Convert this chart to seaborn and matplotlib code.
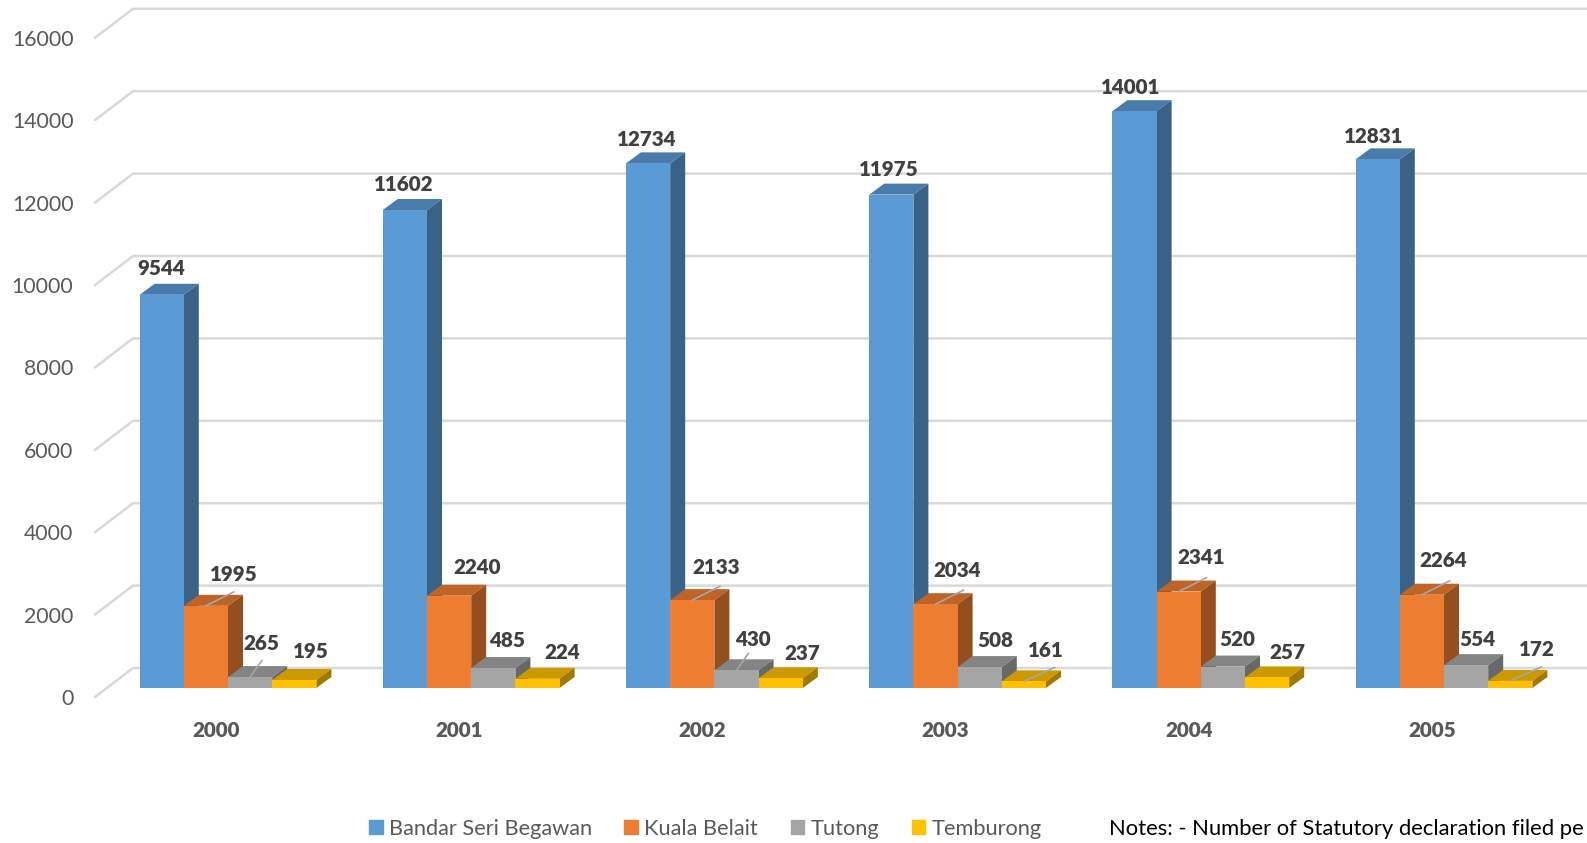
import matplotlib
matplotlib.use('Agg')
import matplotlib.pyplot as plt
import matplotlib.colors as mcolors
from matplotlib.transforms import Affine2D
import pandas as pd
import seaborn as sns

# values
years = ['2000', '2001', '2002', '2003', '2004', '2005']
districts = ['Bandar Seri Begawan', 'Kuala Belait', 'Tutong', 'Temburong']
bandar = [9544, 11602, 12734, 11975, 14001, 12831]
kuala = [1995, 2240, 2133, 2034, 2341, 2264]
tutong = [265, 485, 430, 508, 520, 554]
temburong = [195, 224, 237, 161, 257, 172]
colors = ['#5B9BD5', '#ED7D31', '#A5A5A5', '#FFC000']
yticks = list(range(0, 16001, 2000))
note = 'Notes: - Number of Statutory declaration filed pe'

# label placement, pixels from the top centre of each bar
label_dx = [[0, -1, -1, -2, -4, -4],
            [28, 28, 24, 22, 22, 21],
            [11, 14, 16, 16, 14, 11],
            [17, 25, 22, 22, 20, 27]]
label_dy = [[26, 25, 24, 25, 24, 23],
            [31, 28, 33, 34, 34, 34],
            [34, 28, 31, 27, 27, 26],
            [28, 26, 25, 31, 25, 31]]
# which labels have a leader line, and its end point
leader_on = [[0, 0, 0, 0, 0, 0],
             [1, 0, 1, 1, 1, 1],
             [1, 0, 1, 0, 0, 0],
             [0, 0, 0, 1, 0, 1]]
leader_end = [(0, 0), (28, 14), (12, 17), (31, 14)]

W, H, DPI = 1587, 843, 100
BASE_Y = 688        # pixel row of the bar bases
LEFT_X = 95         # left end of the wall lines
BACK_X = 133
CENTER_X = 228      # pixel column of the first group
STEP_X = 243.2      # pixels between groups
PX_PER_UNIT = 0.0412
DEPTH_X = 15 / STEP_X
DEPTH_Y = 11 / PX_PER_UNIT

sns.set_theme(style='white')
plt.rcParams['font.family'] = ['Lato', 'DejaVu Sans']

df = pd.DataFrame({
    'year': years * 4,
    'district': [d for d in districts for _ in years],
    'count': bandar + kuala + tutong + temburong,
})

fig = plt.figure(figsize=(W / DPI, H / DPI), dpi=DPI)
ax = fig.add_axes([LEFT_X / W, (H - BASE_Y) / H, (W - LEFT_X) / W, BASE_Y / H])
sns.barplot(data=df, x='year', y='count', hue='district', hue_order=districts,
            palette=colors, saturation=1, width=0.727, gap=0, legend=False,
            linewidth=0, ax=ax)

xmin = (LEFT_X - CENTER_X) / STEP_X
xback = (BACK_X - CENTER_X) / STEP_X
xmax = (W - CENTER_X) / STEP_X
ax.set_xlim(xmin, xmax)
ax.set_ylim(0, BASE_Y / PX_PER_UNIT)
ax.set_xlabel('')
ax.set_ylabel('')
sns.despine(ax=ax, left=True, bottom=True)

# wall and floor lines of the 3d box
front = -9 / PX_PER_UNIT
back = 20 / PX_PER_UNIT
for v in yticks:
    ax.plot([xmin, xback, xmax], [v + front, v + back, v + back], color='#D9D9D9',
            lw=1.8, zorder=1, clip_on=False)

# top and side faces of the bars
for i, container in enumerate(ax.containers):
    rgb = mcolors.to_rgb(colors[i])
    top_color = tuple(c * 0.8 for c in rgb)
    side_color = tuple(c * 0.63 for c in rgb)
    z = 2 + i
    for j, bar in enumerate(container):
        bar.set_zorder(z + 0.5)
        x0 = bar.get_x()
        x1 = x0 + bar.get_width()
        h = bar.get_height()
        ax.fill([x0, x1, x1 + DEPTH_X, x0 + DEPTH_X], [h, h, h + DEPTH_Y, h + DEPTH_Y],
                color=top_color, lw=0, zorder=z, clip_on=False)
        ax.fill([x1, x1 + DEPTH_X, x1 + DEPTH_X, x1], [0, DEPTH_Y, h + DEPTH_Y, h],
                color=side_color, lw=0, zorder=z, clip_on=False)
        cx = x0 + bar.get_width() / 2
        ax.annotate(f'{h:.0f}', (cx, h), xytext=(label_dx[i][j], label_dy[i][j]),
                    textcoords='offset pixels', ha='center', va='center',
                    fontsize=14.9, fontweight='heavy', color='#404040', zorder=10)
        if leader_on[i][j]:
            ax.annotate('', (cx, h), xytext=leader_end[i], textcoords='offset pixels',
                        arrowprops=dict(arrowstyle='-', color='#A6A6A6', lw=1.2,
                                        shrinkA=0, shrinkB=0), zorder=9)

# tick labels sit a little off the bars, as in the 3d projection
ax.set_yticks(yticks)
ax.tick_params(axis='y', length=0, pad=15.5, labelsize=15.3, labelcolor='#595959')
ax.tick_params(axis='x', length=0, pad=24, labelsize=14.9, labelcolor='#595959')
for label in ax.get_yticklabels():
    label.set_transform(label.get_transform() + Affine2D().translate(0, -9))
for label in ax.get_xticklabels():
    label.set_fontweight('heavy')
    label.set_transform(label.get_transform() + Affine2D().translate(-12, 0))

handles = [plt.Rectangle((0, 0), 1, 1, color=c) for c in colors]
fig.legend(handles, districts, ncol=4, frameon=False, loc='center left',
           bbox_to_anchor=(369 / W, 1 - 829 / H), fontsize=15.7, labelcolor='#595959',
           handlelength=0.63, handleheight=0.63, handletextpad=0.27, columnspacing=1.5,
           borderpad=0, borderaxespad=0)
fig.text(1109 / W, 1 - 829 / H, note, fontsize=15.8, color='black', va='center')

fig.savefig('out.png', dpi=DPI)
